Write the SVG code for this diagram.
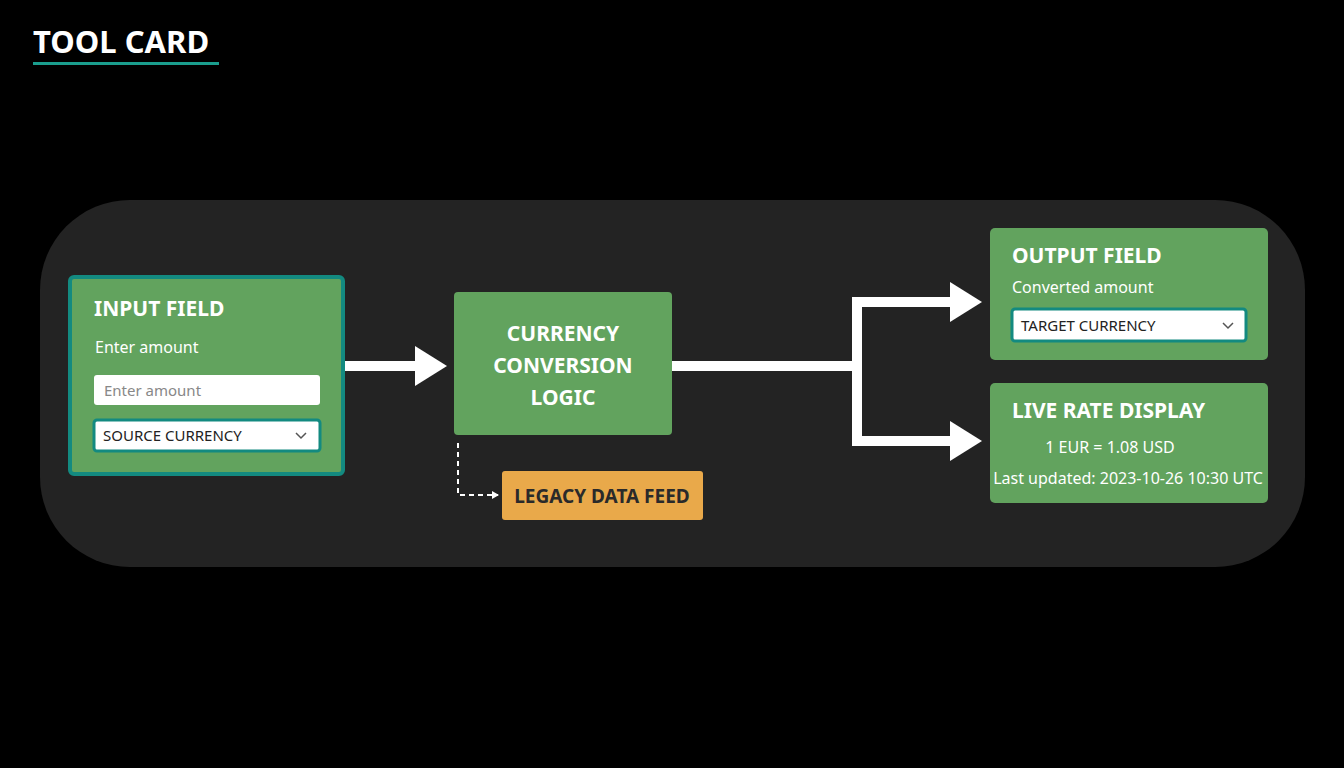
<svg xmlns="http://www.w3.org/2000/svg" width="1344" height="768" viewBox="0 0 1344 768">
<style>
text{font-family:"Noto Sans","Open Sans",sans-serif;}
.green{fill:#62a35e;}
.h{fill:#fff;font-weight:bold;font-size:21px;}
.s{fill:#fff;font-size:16px;}
.box{fill:#fff;}
.dd{fill:#fff;stroke:#138a80;stroke-width:3;}
.dt{fill:#222;font-size:15px;}
.con{fill:none;stroke:#fff;stroke-width:10;}
</style>
<defs>
<marker id="ah" markerWidth="4" markerHeight="4" refX="0.5" refY="2" orient="auto" markerUnits="strokeWidth"><path d="M0,0 L3.2,2 L0,4 Z" fill="#fff"/></marker>
<marker id="sa" markerWidth="8" markerHeight="8" refX="6" refY="4" orient="auto" markerUnits="userSpaceOnUse"><path d="M0,0 L7,4 L0,8 Z" fill="#fff"/></marker>
</defs>
<rect width="1344" height="768" fill="#000"/>
<text x="33" y="53" fill="#fff" font-size="31" font-weight="bold" style="font-family:'Noto Sans',sans-serif">TOOL CARD</text>
<rect x="33" y="62" width="186" height="3" fill="#1a9e8e"/>
<rect x="40" y="200" width="1265" height="367" rx="90" fill="#232323"/>
<g id="connectors">
<path class="con" d="M345,366 H420" marker-end="url(#ah)"/>
<path class="con" d="M672,366 H857 M857,302 V441" />
<path class="con" d="M852,302 H955" marker-end="url(#ah)"/>
<path class="con" d="M852,441 H955" marker-end="url(#ah)"/>
<path d="M458,443 V495 H498" fill="none" stroke="#fff" stroke-width="2" stroke-dasharray="5,4" marker-end="url(#sa)"/>
</g>
<g id="input">
<rect x="70" y="277" width="273" height="197" rx="4" class="green" stroke="#138a80" stroke-width="4"/>
<text x="94" y="316" class="h">INPUT FIELD</text>
<text x="95" y="353" class="s">Enter amount</text>
<rect x="94" y="375" width="226" height="30" rx="3" class="box"/>
<text x="104" y="396" fill="#888" font-size="15">Enter amount</text>
<rect x="94" y="420" width="226" height="31" rx="3" class="dd"/>
<text x="103" y="441" class="dt">SOURCE CURRENCY</text>
<path d="M296,433 l5,5 l5,-5" fill="none" stroke="#555" stroke-width="1.5"/>
</g>
<g id="logic">
<rect x="454" y="292" width="218" height="143" rx="4" class="green"/>
<text x="563" y="341" class="h" font-size="25" text-anchor="middle">CURRENCY</text>
<text x="563" y="373" class="h" font-size="25" text-anchor="middle">CONVERSION</text>
<text x="563" y="405" class="h" font-size="25" text-anchor="middle">LOGIC</text>
</g>
<g id="legacy">
<rect x="502" y="471" width="201" height="49" rx="3" fill="#e9a94a"/>
<text x="602" y="503" text-anchor="middle" fill="#2a2a2a" font-size="19" font-weight="bold">LEGACY DATA FEED</text>
</g>
<g id="output">
<rect x="990" y="228" width="278" height="132" rx="5" class="green"/>
<text x="1012" y="263" class="h">OUTPUT FIELD</text>
<text x="1012" y="293" class="s">Converted amount</text>
<rect x="1012" y="309" width="234" height="32" rx="3" class="dd"/>
<text x="1021" y="331" class="dt">TARGET CURRENCY</text>
<path d="M1223,323 l5,5 l5,-5" fill="none" stroke="#555" stroke-width="1.5"/>
</g>
<g id="liverate">
<rect x="990" y="383" width="278" height="120" rx="5" class="green"/>
<text x="1012" y="418" class="h">LIVE RATE DISPLAY</text>
<text x="1110" y="453" class="s" font-size="19" text-anchor="middle">1 EUR = 1.08 USD</text>
<text x="1128" y="484" class="s" font-size="14" text-anchor="middle">Last updated: 2023-10-26 10:30 UTC</text>
</g>
</svg>
